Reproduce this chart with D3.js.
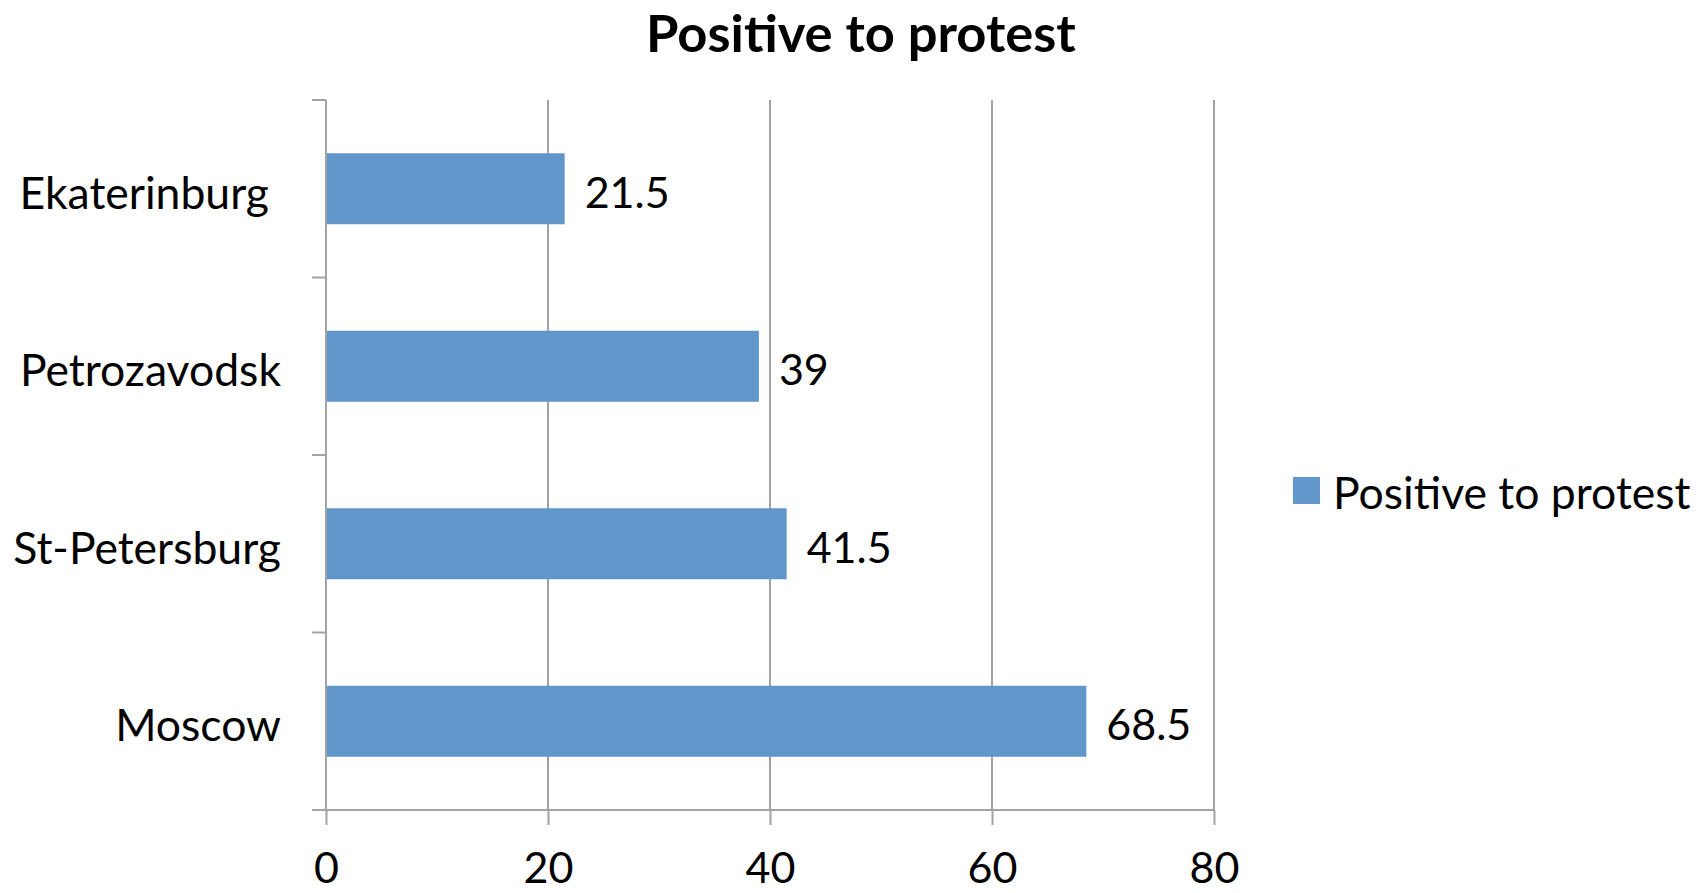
<!DOCTYPE html>
<html>
<head>
<meta charset="utf-8">
<script src="https://cdn.jsdelivr.net/npm/d3@7/dist/d3.min.js"></script>
<style>
  html, body { margin: 0; padding: 0; background: #fff; }
  svg text { font-family: Lato, "Open Sans", sans-serif; fill: #000; }
</style>
</head>
<body>
<svg id="chart" width="1701" height="893"></svg>
<script>
// Share of respondents positive to protest, by city (top to bottom)
const cities = ["Ekaterinburg", "Petrozavodsk", "St-Petersburg", "Moscow"];
const values = [21.5, 39, 41.5, 68.5];
const xTicks = [0, 20, 40, 60, 80];
const seriesName = "Positive to protest";
const chartTitle = "Positive to protest";

const svg = d3.select("#chart");
const plot = { left: 326, right: 1214, top: 100, bottom: 810 };
const barColor = "#6096c9";
const gridColor = "#a3a3a3";

const x = d3.scaleLinear().domain([0, 80]).range([plot.left, plot.right]);
const y = d3.scaleBand().domain(cities).range([plot.top, plot.bottom])
  .paddingInner(0.6).paddingOuter(0.3);

// title
svg.append("text")
  .attr("x", 861).attr("y", 52)
  .attr("text-anchor", "middle")
  .style("font-size", "52.5px").style("font-weight", "bold")
  .text(chartTitle);

// vertical gridlines
svg.append("g").selectAll("line")
  .data(xTicks.slice(1))
  .join("line")
  .attr("x1", d => x(d)).attr("x2", d => x(d))
  .attr("y1", plot.top).attr("y2", plot.bottom)
  .attr("stroke", gridColor).attr("stroke-width", 2);

// bottom axis
const xAxis = svg.append("g")
  .attr("transform", `translate(0,${plot.bottom})`)
  .call(d3.axisBottom(x).tickValues(xTicks).tickSize(15).tickSizeOuter(0).tickPadding(30));
xAxis.select(".domain").attr("stroke", gridColor).attr("stroke-width", 2)
  .attr("d", `M${plot.left - 14},0H${plot.right}`);
xAxis.selectAll(".tick line").attr("stroke", gridColor).attr("stroke-width", 2);
xAxis.selectAll(".tick text")
  .style("font-size", "43px").style("font-family", "Lato, 'Open Sans', sans-serif")
  .attr("fill", "#000").attr("dy", "0.71em").attr("y", 42.5);

// left axis: line plus ticks at band boundaries
const bounds = d3.range(cities.length + 1).map(i => plot.top + i * (plot.bottom - plot.top) / cities.length);
svg.append("line")
  .attr("x1", plot.left).attr("x2", plot.left)
  .attr("y1", plot.top).attr("y2", plot.bottom)
  .attr("stroke", gridColor).attr("stroke-width", 2);
svg.append("g").selectAll("line")
  .data(bounds)
  .join("line")
  .attr("x1", plot.left - 14).attr("x2", plot.left)
  .attr("y1", d => d).attr("y2", d => d)
  .attr("stroke", gridColor).attr("stroke-width", 2);

// bars
svg.append("g").selectAll("rect")
  .data(cities)
  .join("rect")
  .attr("x", x(0) + 1)
  .attr("y", d => y(d))
  .attr("width", (d, i) => x(values[i]) - x(0) - 1)
  .attr("height", y.bandwidth())
  .attr("fill", barColor);

// value labels
svg.append("g").selectAll("text")
  .data(cities)
  .join("text")
  .attr("x", (d, i) => x(values[i]) + 20)
  .attr("y", d => y(d) + y.bandwidth() / 2 + 19)
  .style("font-size", "43px")
  .text((d, i) => String(values[i]));

// category labels
svg.append("g").selectAll("text")
  .data(cities)
  .join("text")
  .attr("x", d => d === "Ekaterinburg" ? 269 : 281)
  .attr("y", d => y(d) + y.bandwidth() / 2 + 20)
  .attr("text-anchor", "end")
  .style("font-size", "44.5px")
  .text(d => d);

// legend
const legend = svg.append("g").attr("transform", "translate(1293,477)");
legend.append("rect").attr("width", 27).attr("height", 27).attr("fill", barColor);
legend.append("text").attr("x", 40).attr("y", 32)
  .style("font-size", "44.5px").text(seriesName);
</script>
</body>
</html>
